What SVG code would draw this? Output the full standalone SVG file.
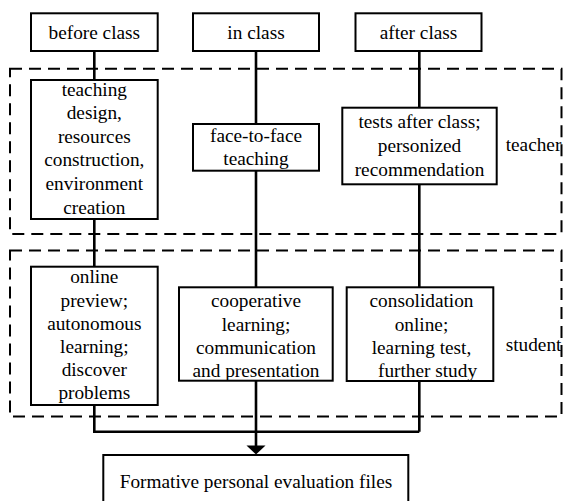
<svg xmlns="http://www.w3.org/2000/svg" width="563" height="501" viewBox="0 0 563 501">
<style>
  .box { fill: #fff; stroke: #000; stroke-width: 2; }
  .region { fill: none; stroke: #000; stroke-width: 2; stroke-dasharray: 12 7; }
  .conn { fill: none; stroke: #000; stroke-width: 2.6; }
  text { font-family: "Liberation Serif", "Times New Roman", serif; font-size: 19.3px; fill: #000; }
  .c { text-anchor: middle; }
</style>
<rect width="563" height="501" fill="#fff"/>
<g id="regions">
  <rect id="teacher-region" class="region" x="10" y="68.7" width="551.5" height="165.3"/>
  <rect id="student-region" class="region" x="10" y="250.5" width="551.5" height="166"/>
</g>
<g id="connectors">
  <path class="conn" d="M94.3 51 V80 M94.3 219 V266.7 M94.3 405 V431.7 H419.3 M419.3 51 V107.7 M419.3 184.3 V287.3 M419.3 381 V431.7"/>
  <path class="conn" d="M256 51 V124 M256 170.7 V287.3 M256 380.7 V447"/>
  <polygon points="246.5,445.5 265.5,445.5 256,454.5" fill="#000"/>
</g>
<g id="before-class">
  <rect class="box" x="31" y="13.3" width="126.7" height="37.7"/>
  <text class="c" x="94.3" y="38.5">before class</text>
</g>
<g id="in-class">
  <rect class="box" x="193" y="13.3" width="126" height="37.7"/>
  <text class="c" x="256" y="38.5">in class</text>
</g>
<g id="after-class">
  <rect class="box" x="355.5" y="13.3" width="126" height="37.7"/>
  <text class="c" x="418.5" y="38.5">after class</text>
</g>
<g id="teaching-design">
  <rect class="box" x="31" y="80" width="126.7" height="139"/>
  <text class="c" x="94.3" y="95.5">teaching</text>
  <text class="c" x="94.3" y="119.1">design,</text>
  <text class="c" x="94.3" y="142.7">resources</text>
  <text class="c" x="94.3" y="166.3">construction,</text>
  <text class="c" x="94.3" y="189.9">environment</text>
  <text class="c" x="94.3" y="213.5">creation</text>
</g>
<g id="face-to-face">
  <rect class="box" x="193" y="124" width="126" height="46.7"/>
  <text class="c" x="256" y="142">face-to-face</text>
  <text class="c" x="256" y="165.3">teaching</text>
</g>
<g id="tests-after-class">
  <rect class="box" x="342.3" y="107.7" width="154.4" height="76.6"/>
  <text class="c" x="419.5" y="128.3">tests after class;</text>
  <text class="c" x="419.5" y="152">personized</text>
  <text class="c" x="419.5" y="175.5">recommendation</text>
</g>
<g id="teacher-label">
  <text x="505.7" y="150.7">teacher</text>
</g>
<g id="online-preview">
  <rect class="box" x="31" y="266.7" width="126.7" height="138.3"/>
  <text class="c" x="94.3" y="283.3">online</text>
  <text class="c" x="94.3" y="306.5">preview;</text>
  <text class="c" x="94.3" y="329.7">autonomous</text>
  <text class="c" x="94.3" y="352.9">learning;</text>
  <text class="c" x="94.3" y="376.1">discover</text>
  <text class="c" x="94.3" y="399.3">problems</text>
</g>
<g id="cooperative-learning">
  <rect class="box" x="179" y="287.3" width="153.7" height="93.4"/>
  <text class="c" x="256" y="307.3">cooperative</text>
  <text class="c" x="256" y="330.7">learning;</text>
  <text class="c" x="256" y="354">communication</text>
  <text class="c" x="256" y="376.5">and presentation</text>
</g>
<g id="consolidation-online">
  <rect class="box" x="346.7" y="287.3" width="146.6" height="93.7"/>
  <text class="c" x="421.5" y="307.3">consolidation</text>
  <text class="c" x="421.5" y="330.7">online;</text>
  <text class="c" x="421.5" y="354">learning test,</text>
  <text class="c" x="427.5" y="376.5">further study</text>
</g>
<g id="student-label">
  <text x="505.7" y="351">student</text>
</g>
<g id="evaluation-files">
  <rect class="box" x="103.3" y="455" width="305" height="65"/>
  <text class="c" x="256" y="488.3">Formative personal evaluation files</text>
</g>
</svg>
